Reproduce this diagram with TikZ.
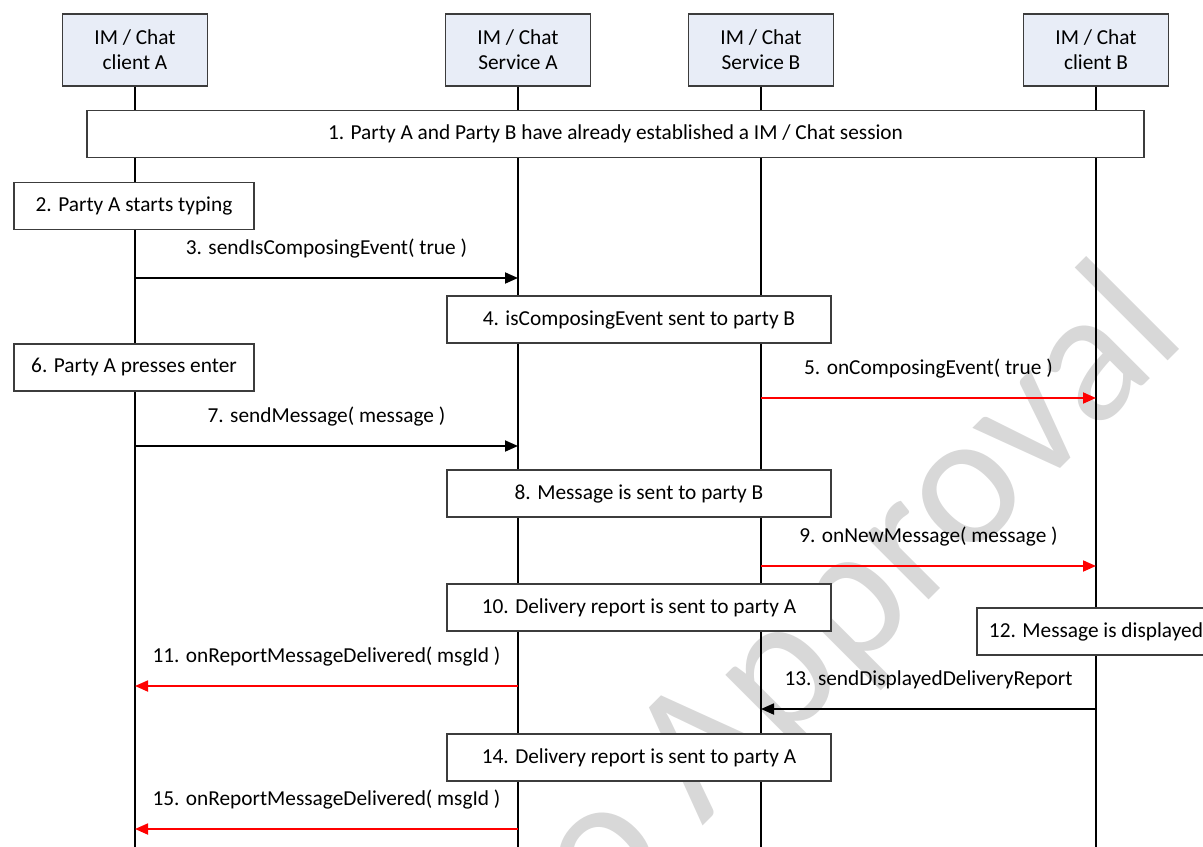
\documentclass[tikz,border=0pt]{standalone}
\usepackage{fontspec}
\setmainfont{Carlito}
\usetikzlibrary{arrows.meta}
\definecolor{headfill}{RGB}{232,237,247}
\definecolor{msgred}{RGB}{255,0,0}
\definecolor{boxline}{RGB}{60,60,60}
\definecolor{wmgray}{RGB}{216,216,216}
\begin{document}
\begin{tikzpicture}[x=1bp,y=-1bp,
  every node/.style={font=\fontsize{21.4}{25}\selectfont, inner sep=0pt},
  head/.style={draw=boxline, line width=1.3bp, fill=headfill,
    minimum width=145bp, minimum height=72bp, align=center},
  stepbox/.style={draw=boxline, line width=1.1bp, fill=white, minimum height=47bp},
  life/.style={line width=1.8bp},
  msg/.style={line width=1.8bp, -{Triangle[length=13bp,width=11bp]}},
  redmsg/.style={msg, draw=msgred},
  lbl/.style={midway, anchor=base, yshift=24bp},
  wmark/.style={rotate=45, anchor=base east, text=wmgray,
    font=\fontsize{190}{190}\selectfont}
]
\useasboundingbox (0,0) rectangle (1203,847);
\clip (0,0) rectangle (1203,847);

% background watermark
\node[wmark] (wm) at (1189,340) {to Approval};

% participants
\node[head] (hA)  at (135,50)  {IM / Chat\\client A};
\node[head] (hSA) at (518,50)  {IM / Chat\\Service A};
\node[head] (hSB) at (761,50)  {IM / Chat\\Service B};
\node[head] (hB)  at (1096,50) {IM / Chat\\client B};

% lifelines
\coordinate (bot) at (0,847);
\foreach \p in {hA,hSA,hSB,hB}
  \draw[life] (\p.south) -- (\p.south |- bot);

% processing steps
\node[stepbox, minimum width=1057bp] (s1) at (615.5,134)
  {1. Party A and Party B have already established a IM / Chat session};
\node[stepbox, minimum width=240bp] (s2) at (134,206) {2. Party A starts typing};
\node[stepbox, minimum width=384bp] (s4) at (639,319.5) {4. isComposingEvent sent to party B};
\node[stepbox, minimum width=240bp] (s6) at (134,367.5) {6. Party A presses enter};
\node[stepbox, minimum width=384bp] (s8) at (639,493.5) {8. Message is sent to party B};
\node[stepbox, minimum width=384bp] (s10) at (639,607.5) {10. Delivery report is sent to party A};
\node[stepbox, minimum width=238bp] (s12) at (1096,631.5) {12. Message is displayed};
\node[stepbox, minimum width=384bp] (s14) at (639,757.5) {14. Delivery report is sent to party A};

% message rows
\coordinate (y3) at (0,278);
\coordinate (y5) at (0,398);
\coordinate (y7) at (0,446);
\coordinate (y9) at (0,566);
\coordinate (y11) at (0,686);
\coordinate (y13) at (0,709);
\coordinate (y15) at (0,829);

\draw[msg] (hA |- y3) -- (hSA |- y3) node[lbl] (l3) {3. sendIsComposingEvent( true )};
\draw[redmsg] (hSB |- y5) -- (hB |- y5) node[lbl] (l5) {5. onComposingEvent( true )};
\draw[msg] (hA |- y7) -- (hSA |- y7) node[lbl] (l7) {7. sendMessage( message )};
\draw[redmsg] (hSB |- y9) -- (hB |- y9) node[lbl] (l9) {9. onNewMessage( message )};
\draw[redmsg] (hSA |- y11) -- (hA |- y11) node[lbl] (l11) {11. onReportMessageDelivered( msgId )};
\draw[msg] (hB |- y13) -- (hSB |- y13) node[lbl] (l13) {13. sendDisplayedDeliveryReport};
\draw[redmsg] (hSA |- y15) -- (hA |- y15) node[lbl] (l15) {15. onReportMessageDelivered( msgId )};
\end{tikzpicture}
\end{document}
